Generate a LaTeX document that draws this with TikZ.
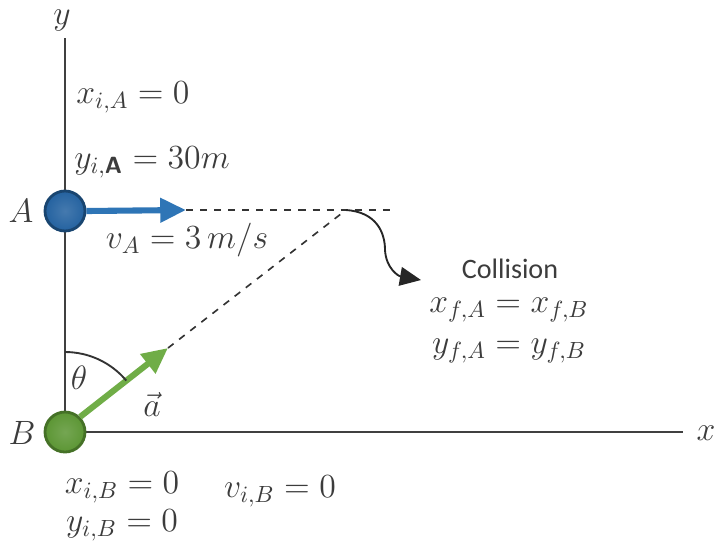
\documentclass[tikz,border=0pt]{standalone}
\usepackage{amsmath,amssymb}
\usepackage{fontspec}
\usepackage{xcolor}
\usetikzlibrary{arrows.meta}
\newfontfamily\calibrifont{Carlito}
\definecolor{ablue}{RGB}{46,117,182}
\definecolor{ballblue}{RGB}{36,98,160}
\definecolor{bgreen}{RGB}{112,173,71}
\definecolor{ballgreen}{RGB}{92,150,52}
\definecolor{txtgray}{RGB}{60,60,60}

\begin{document}
\begin{tikzpicture}[x=0.015cm,y=-0.015cm,every node/.style={font=\Large,text=txtgray},
  ball/.style={circle,minimum size=40*0.015cm,inner sep=0pt,line width=1.2pt},
  axis/.style={draw=black!75,line width=1.2pt},
  guide/.style={dashed,black!80,line width=0.7pt}]
\useasboundingbox (0,0) rectangle (727,546);
% axes
\coordinate (O) at (65,432);
\coordinate (ytop) at (65,38);
\coordinate (xend) at (683,432);
\draw[axis] (O) -- (ytop);
\draw[axis] (O) -- (xend);
\node (ylab) at (62,21) {$y$};
\node (xlab) at (706,433) {$x$};
% balls
\node[ball,inner color=ballblue!85!white,outer color=ballblue,draw=ballblue!70!black] (A) at (65,211) {};
\node[ball,inner color=ballgreen!85!white,outer color=ballgreen,draw=ballgreen!75!black] (B) at (65,432) {};
\node (Alab) at (21,211) {$A$};
\node (Blab) at (22,433) {$B$};
% velocity of A, acceleration of B
\coordinate (vtip) at (186,210);
\coordinate (atip) at (168,348);
\coordinate (C) at (346,210);
\coordinate (hend) at (392,210);
\draw[ablue,line width=2.6pt,-{Triangle[length=11pt,width=10pt]}] (A.east) -- (vtip);
\draw[bgreen,line width=2.6pt,-{Triangle[length=11pt,width=10pt]}] (B.north east) -- (atip);
\draw[guide] (vtip) -- (hend);
\draw[guide] (atip) -- (C);
% angle
\draw[black!80,line width=0.8pt] (65,352) arc[start angle=-90,end angle=-40,radius=80];
\node (th) at (79,378) {$\theta$};
\node (acc) at (152,404) {$\vec{a}$};
% collision arrow
\coordinate (ctip) at (421,280);
\draw[black!85,line width=0.8pt,-{Triangle[length=9pt,width=8pt]}] (C) .. controls (376,212) and (385,232) .. (385,250) .. controls (386,268) and (398,276) .. (ctip);
% labels
\node (xiA) at (133,97) {$x_{i,A}=0$};
\node (yiA) at (152,162) {$y_{i,\textsf{\textbf{A}}}=30m$};
\node (vA) at (187,240) {$v_A=3\,m/s$};
\node[font=\calibrifont\large] (coll) at (510,269) {Collision};
\node (xf) at (509,310) {$x_{f,A}=x_{f,B}$};
\node (yf) at (509,351) {$y_{f,A}=y_{f,B}$};
\node (xiB) at (122,487) {$x_{i,B}=0$};
\node (yiB) at (122,525) {$y_{i,B}=0$};
\node (viB) at (280,491) {$v_{i,B}=0$};
\end{tikzpicture}
\end{document}
